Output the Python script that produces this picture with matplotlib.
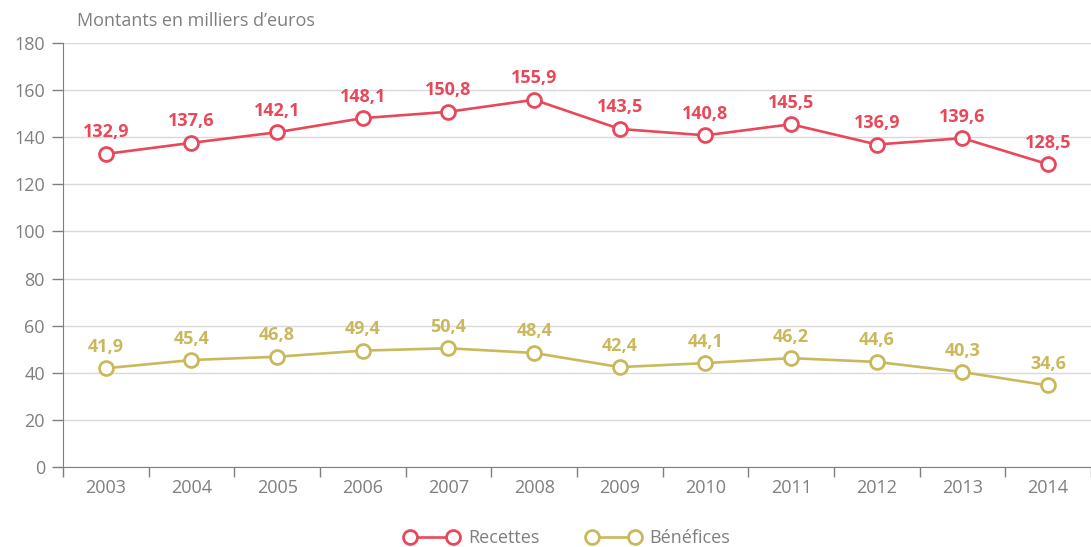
import matplotlib
matplotlib.use("Agg")
import matplotlib.pyplot as plt

years = ["2003", "2004", "2005", "2006", "2007", "2008",
         "2009", "2010", "2011", "2012", "2013", "2014"]
recettes = [132.9, 137.6, 142.1, 148.1, 150.8, 155.9,
            143.5, 140.8, 145.5, 136.9, 139.6, 128.5]
benefices = [41.9, 45.4, 46.8, 49.4, 50.4, 48.4,
             42.4, 44.1, 46.2, 44.6, 40.3, 34.6]
yticks = [0, 20, 40, 60, 80, 100, 120, 140, 160, 180]

red = "#E8485A"
olive = "#C9B95C"
gray = "#7f7f7f"

plt.rcParams['font.family'] = ['Open Sans', 'DejaVu Sans']

fig = plt.figure(figsize=(10.91, 5.47), dpi=100)
ax = fig.add_axes([0.0577, 0.1463, 0.9423, 0.7751])

x = list(range(len(years)))
for vals, col, name in [(recettes, red, "Recettes"), (benefices, olive, "Bénéfices")]:
    ax.plot(x, vals, color=col, lw=1.9, marker="o", ms=10, mfc="white",
            mec=col, mew=2.0, label=name, zorder=3)
    for xi, v in zip(x, vals):
        ax.annotate(f"{v:.1f}".replace(".", ","), (xi, v), xytext=(0, 9),
                    textcoords="offset points", ha="center", va="bottom",
                    color=col, fontsize=13, fontweight="bold")

ax.set_xlim(-0.5, len(years) - 0.5)
ax.set_ylim(0, 180)
ax.set_yticks(yticks)
ax.set_yticklabels([str(t) for t in yticks])
ax.yaxis.grid(True, color="#d9d9d9", lw=1)
ax.set_axisbelow(True)

ax.set_xticks([i - 0.5 for i in range(len(years) + 1)])
ax.set_xticklabels([])
ax.set_xticks(x, minor=True)
ax.set_xticklabels(years, minor=True)
ax.tick_params(axis="x", which="major", direction="out", length=7, color=gray, width=1)
ax.tick_params(axis="x", which="minor", length=0, pad=9, labelsize=13, labelcolor=gray)
ax.tick_params(axis="y", direction="out", length=8, color=gray, width=1,
               labelsize=13, labelcolor=gray, pad=5)

for s in ["top", "right"]:
    ax.spines[s].set_visible(False)
ax.spines["left"].set_color(gray)
ax.spines["bottom"].set_color(gray)

fig.text(0.0706, 0.962, "Montants en milliers d\u2019euros", color=gray,
         fontsize=13, va="center", ha="left")

fig.legend(loc="center", bbox_to_anchor=(0.52, 0.016), ncol=2, frameon=False,
           fontsize=13, labelcolor=gray, handlelength=3.0, columnspacing=2.6,
           handletextpad=0.5, numpoints=2)

fig.savefig("out.png", dpi=100)
